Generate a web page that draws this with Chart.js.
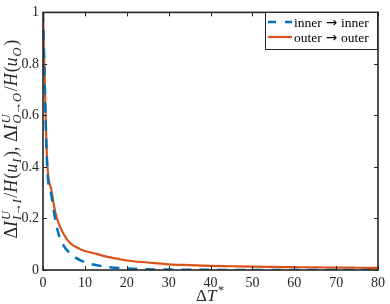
<!DOCTYPE html>
<html>
<head>
<meta charset="utf-8">
<script src="https://cdn.jsdelivr.net/npm/chart.js@4/dist/chart.umd.min.js"></script>
<style>
html,body{margin:0;padding:0;background:#fff;}
#wrap{width:390px;height:304px;position:relative;}
</style>
</head>
<body>
<div id="wrap"><canvas id="c" width="390" height="304"></canvas></div>
<script>
// ---- data ----
const deltaT = [0,1,2,3,4,5,6,7,8,9,10,12,14,16,18,20,25,30,35,40,45,50,55,60,65,70,75,80];
const innerToInner = [1,0.40,0.29,0.19,0.125,0.093,0.072,0.058,0.046,0.037,0.030,0.021,0.015,0.011,0.008,0.006,0.003,0.0015,0.001,0.0005,0.0003,0.0002,0.0001,0,0,0,0,0];
const outerToOuter = [1,0.42,0.31,0.22,0.17,0.138,0.113,0.098,0.088,0.080,0.074,0.066,0.057,0.049,0.043,0.037,0.029,0.022,0.019,0.016,0.0145,0.013,0.012,0.011,0.010,0.0095,0.0088,0.008];
const seriesLabels = ['inner \u2192 inner','outer \u2192 outer'];
const xTicks = [0,10,20,30,40,50,60,70,80];
const yTicks = [0,0.2,0.4,0.6,0.8,1];

const BLUE = '#0072BD', ORANGE = '#D95319', AX = '#262626';
const SERIF = '"Liberation Serif", serif';

function pts(ys){ return deltaT.map((x,i)=>({x:x,y:ys[i]})); }

function drawRich(ctx, segs, size, ssize, supK, subK){
  let w = 0;
  const items = segs.map(s=>{
    if (Array.isArray(s)) {
      ctx.font = (s[1]?'italic ':'') + size + 'px ' + SERIF;
      const mw = ctx.measureText(s[0]).width;
      return {type:'n', t:s[0], it:s[1], w:mw + (s[1]?1:0)};
    } else {
      ctx.font = 'italic ' + ssize + 'px ' + SERIF;
      const w1 = s.sup ? ctx.measureText(s.sup).width : 0;
      const w2 = s.sub ? ctx.measureText(s.sub).width : 0;
      return {type:'s', sup:s.sup, sub:s.sub, w:Math.max(w1,w2)+1.5};
    }
  });
  items.forEach(it=>w+=it.w);
  return {w:w, draw:function(x0, y0){
    let x = x0;
    items.forEach(it=>{
      if (it.type==='n') {
        ctx.font = (it.it?'italic ':'') + size + 'px ' + SERIF;
        ctx.fillText(it.t, x, y0);
      } else {
        ctx.font = 'italic ' + ssize + 'px ' + SERIF;
        if (it.sup) ctx.fillText(it.sup, x, y0 - size*supK);
        if (it.sub) ctx.fillText(it.sub, x, y0 + size*subK);
      }
      x += it.w;
    });
  }};
}

const decor = {
  id:'decor',
  afterDraw(chart){
    const ctx = chart.ctx, a = chart.chartArea;
    const xs = chart.scales.x, ys = chart.scales.y;
    ctx.save();
    ctx.strokeStyle = AX; ctx.lineWidth = 1;
    ctx.beginPath();
    xTicks.forEach(v=>{
      const px = Math.round(xs.getPixelForValue(v))+0.5;
      ctx.moveTo(px, a.bottom); ctx.lineTo(px, a.bottom-4);
      ctx.moveTo(px, a.top); ctx.lineTo(px, a.top+4);
    });
    yTicks.forEach(v=>{
      const py = Math.round(ys.getPixelForValue(v))+0.5;
      ctx.moveTo(a.left, py); ctx.lineTo(a.left+4, py);
      ctx.moveTo(a.right, py); ctx.lineTo(a.right-4, py);
    });
    ctx.stroke();
    ctx.lineWidth = 1.6;
    ctx.strokeRect(a.left, a.top, a.right-a.left, a.bottom-a.top);

    // legend
    const lx = 265, ly = 12, lw = 112, lh = 37;
    ctx.fillStyle = '#fff';
    ctx.fillRect(lx, ly, lw, lh);
    ctx.lineWidth = 1;
    ctx.strokeStyle = AX;
    ctx.strokeRect(lx+0.5, ly+0.5, lw, lh);
    const rows = [ly+10, ly+25];
    ctx.lineWidth = 2.5; ctx.strokeStyle = BLUE; ctx.setLineDash([8,9]);
    ctx.beginPath(); ctx.moveTo(268, rows[0]); ctx.lineTo(292, rows[0]); ctx.stroke();
    ctx.setLineDash([]); ctx.lineWidth = 2.2; ctx.strokeStyle = ORANGE;
    ctx.beginPath(); ctx.moveTo(268, rows[1]); ctx.lineTo(292, rows[1]); ctx.stroke();
    ctx.fillStyle = '#000';
    ctx.textBaseline = 'middle'; ctx.textAlign = 'left';
    [0,1].forEach(i=>{
      const parts = seriesLabels[i].split(' \u2192 ');
      let x = 294;
      ctx.font = '13.5px ' + SERIF;
      ctx.fillText(parts[0], x, rows[i]+1); x += ctx.measureText(parts[0]).width + 4;
      ctx.font = '13.5px "DejaVu Sans", sans-serif';
      ctx.fillText('\u2192', x, rows[i]+1); x += ctx.measureText('\u2192').width + 4;
      ctx.font = '13.5px ' + SERIF;
      ctx.fillText(parts[1], x, rows[i]+1);
    });

    // x title
    ctx.fillStyle = AX;
    ctx.textBaseline = 'alphabetic';
    const xt = drawRich(ctx, [['\u0394',0],['T',1],{sup:'*'}], 17, 12, 0.42, 0.27);
    xt.draw((a.left+a.right)/2 - xt.w/2, 301);

    // y title
    const segs = [['\u0394',0],['I',1],{sup:'U',sub:'I\u2192I'},['/',0],['H',1],['(',0],['u',1],{sub:'I'},[')',0],[', ',0],
                  ['\u0394',0],['I',1],{sup:'U',sub:'O\u2192O'},['/',0],['H',1],['(',0],['u',1],{sub:'O'},[')',0]];
    const yt = drawRich(ctx, segs, 18, 12.5, 0.4, 0.22);
    ctx.translate(17, (a.top+a.bottom)/2 - 2);
    ctx.rotate(-Math.PI/2);
    yt.draw(-yt.w/2, 0);
    ctx.restore();
  }
};

new Chart(document.getElementById('c'), {
  type:'line',
  data:{
    datasets:[
      {label:seriesLabels[0], data:pts(innerToInner), borderColor:BLUE, borderWidth:2.5, borderDash:[10,8], pointRadius:0, cubicInterpolationMode:'monotone', fill:false},
      {label:seriesLabels[1], data:pts(outerToOuter), borderColor:ORANGE, borderWidth:2.2, pointRadius:0, cubicInterpolationMode:'monotone', fill:false}
    ]
  },
  options:{
    responsive:false, animation:false,
    layout:{padding:{left:0, right:8, top:5, bottom:0}},
    plugins:{legend:{display:false}, tooltip:{enabled:false}},
    scales:{
      x:{type:'linear', min:0, max:80,
         afterBuildTicks:(s)=>{ s.ticks = xTicks.map(v=>({value:v})); },
         afterFit:(s)=>{ s.height = 34; },
         grid:{display:false, drawTicks:false}, border:{display:false},
         ticks:{color:AX, font:{family:SERIF, size:14}, padding:5, maxRotation:0, autoSkip:false,
                callback:(v)=>String(v)}},
      y:{type:'linear', min:0, max:1,
         afterBuildTicks:(s)=>{ s.ticks = yTicks.map(v=>({value:v})); },
         afterFit:(s)=>{ s.width = 43; },
         grid:{display:false, drawTicks:false}, border:{display:false},
         ticks:{color:AX, font:{family:SERIF, size:14}, padding:4, autoSkip:false,
                callback:(v)=>String(Number(v.toFixed(1)))}}
    }
  },
  plugins:[decor]
});
</script>
</body>
</html>
